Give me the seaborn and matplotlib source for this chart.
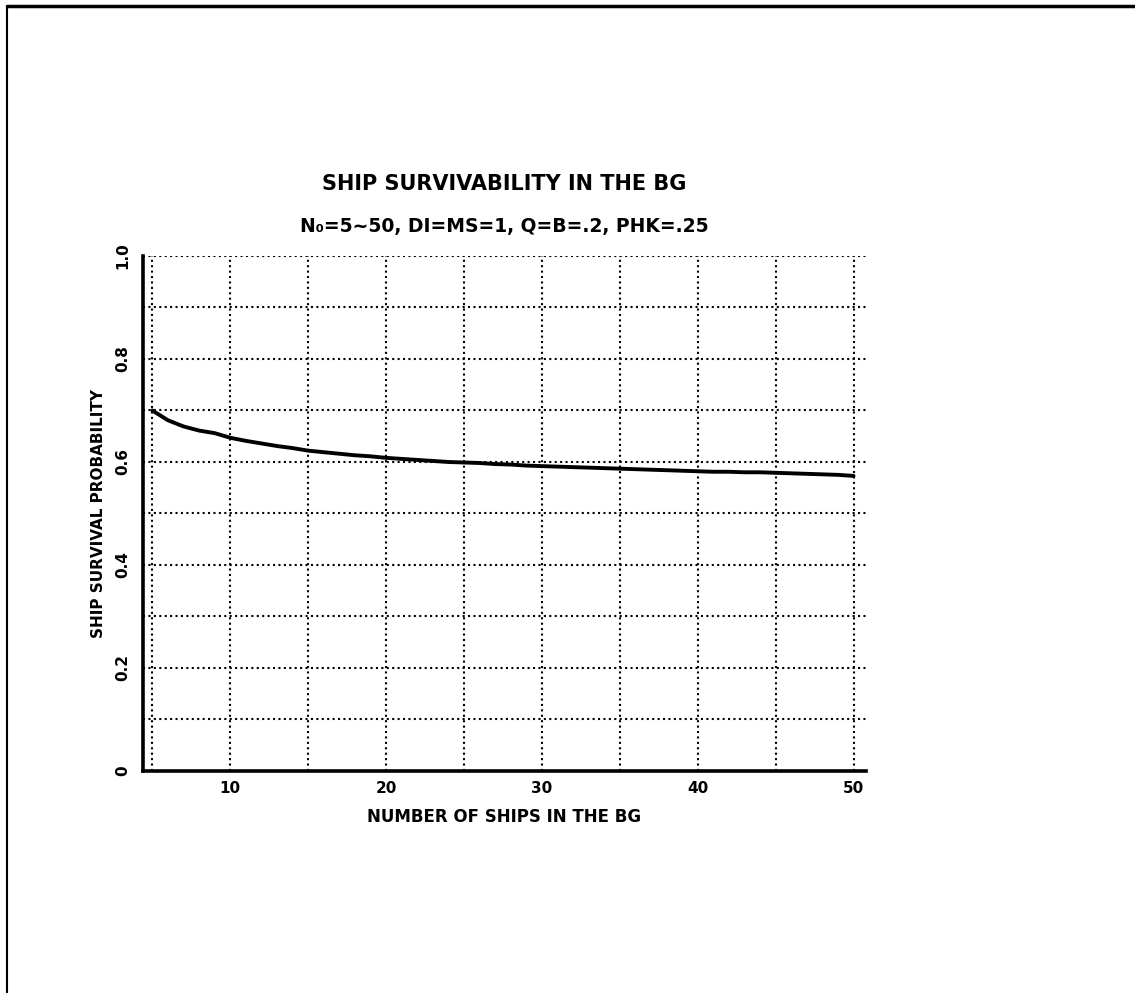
import matplotlib
matplotlib.use("Agg")
import matplotlib.pyplot as plt
import seaborn as sns
import pandas as pd
from matplotlib.lines import Line2D

# ---- data ----
num_ships = list(range(5, 51))
survival = [0.700, 0.681, 0.669, 0.661, 0.656, 0.647, 0.641, 0.636, 0.631, 0.627,
            0.622, 0.619, 0.616, 0.613, 0.611, 0.608, 0.606, 0.604, 0.602, 0.600,
            0.599, 0.598, 0.596, 0.595, 0.593, 0.592, 0.591, 0.590, 0.589, 0.588,
            0.587, 0.586, 0.585, 0.584, 0.583, 0.582, 0.581, 0.581, 0.580, 0.580,
            0.579, 0.578, 0.577, 0.576, 0.575, 0.573]
x_ticks = [10, 20, 30, 40, 50]
x_tick_labels = ["10", "20", "30", "40", "50"]
y_ticks = [0, 0.2, 0.4, 0.6, 0.8, 1.0]
y_tick_labels = ["0", "0.2", "0.4", "0.6", "0.8", "1.0"]
x_grid = list(range(5, 51, 5))
y_grid = [0.1 * i for i in range(1, 11)]

title = "SHIP SURVIVABILITY IN THE BG"
subtitle = "N\u2080=5~50, DI=MS=1, Q=B=.2, PHK=.25"
x_label = "NUMBER OF SHIPS IN THE BG"
y_label = "SHIP SURVIVAL PROBABILITY"

df = pd.DataFrame({"ships": num_ships, "surv": survival})

sns.set_style("white")
plt.rcParams["font.family"] = ["DejaVu Sans"]
plt.rcParams["font.weight"] = "bold"
plt.rcParams["text.color"] = "black"
plt.rcParams["axes.labelcolor"] = "black"
plt.rcParams["xtick.color"] = "black"
plt.rcParams["ytick.color"] = "black"

fig = plt.figure(figsize=(11.35, 9.93), dpi=100)
ax = fig.add_axes([0.126, 0.2236, 0.637, 0.5186])

sns.lineplot(data=df, x="ships", y="surv", ax=ax, color="black", linewidth=2.8)

ax.set_xlim(4.4, 50.8)
ax.set_ylim(0, 1.0)

# dotted grid
for gx in x_grid:
    ax.axvline(gx, color="black", linestyle=(0, (1, 1.6)), linewidth=1.5, zorder=0)
for gy in y_grid:
    ax.axhline(gy, color="black", linestyle=(0, (1, 1.6)), linewidth=1.5, zorder=0)

ax.set_xticks(x_ticks)
ax.set_xticklabels(x_tick_labels, fontsize=11, fontweight="bold", color="black")
ax.set_yticks(y_ticks)
ax.set_yticklabels(y_tick_labels, fontsize=11, fontweight="bold", rotation=90,
                   va="center", color="black")
ax.tick_params(axis="both", length=0)
ax.tick_params(axis="x", pad=7)
ax.tick_params(axis="y", pad=9)

for s in ["top", "right"]:
    ax.spines[s].set_visible(False)
for s in ["left", "bottom"]:
    ax.spines[s].set_linewidth(2.6)
    ax.spines[s].set_color("black")

ax.set_xlabel(x_label, fontsize=12, fontweight="bold", color="black")
ax.set_ylabel(y_label, fontsize=11, fontweight="bold", color="black")
ax.xaxis.set_label_coords(0.5, -0.071)
ax.yaxis.set_label_coords(-0.051, 0.5)

fig.text(0.444, 0.8147, title, ha="center", va="center", fontsize=15,
         fontweight="bold", color="black")
fig.text(0.444, 0.7714, subtitle, ha="center", va="center", fontsize=13.5,
         fontweight="bold", color="black")

# page frame (top and left)
fig.add_artist(Line2D([0.0062, 0.0062], [0, 1 - 6 / 993], transform=fig.transFigure,
                      color="black", linewidth=1.5))
fig.add_artist(Line2D([0.0062, 1], [1 - 6 / 993, 1 - 6 / 993], transform=fig.transFigure,
                      color="black", linewidth=2.5))

fig.savefig("out.png", dpi=100, facecolor="white")
